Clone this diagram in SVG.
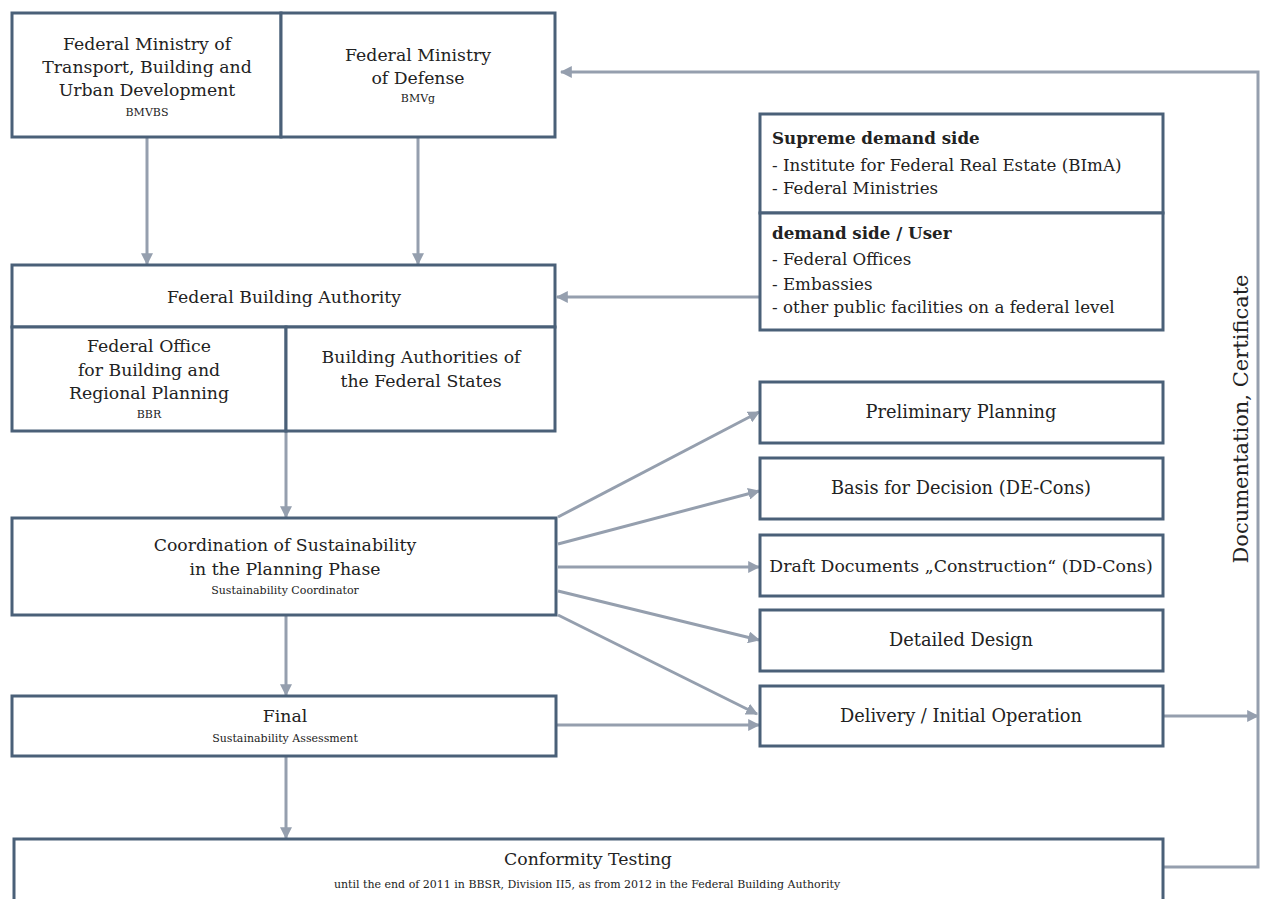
<svg xmlns="http://www.w3.org/2000/svg" width="1262" height="899" viewBox="0 0 1262 899">
<style>
.box{fill:#fff;stroke:#4a6078;stroke-width:3}
.t{font-family:"DejaVu Serif","Liberation Serif",serif;fill:#222;text-anchor:middle;font-size:17.3px}
.r{font-size:17.8px}
.s{font-family:"DejaVu Serif","Liberation Serif",serif;fill:#222;text-anchor:middle;font-size:11px}
.l{font-family:"DejaVu Serif","Liberation Serif",serif;fill:#222;font-size:16.7px}
.b{font-weight:bold}
.c{fill:none;stroke:#959fae;stroke-width:3}
</style>
<defs>
<marker id="ah" viewBox="0 0 10 10" refX="9" refY="5" markerWidth="4" markerHeight="4" orient="auto" markerUnits="strokeWidth">
<path d="M0,0 L10,5 L0,10 z" fill="#959fae"/>
</marker>
</defs>
<rect width="1262" height="899" fill="#fff"/>
<g id="connectors">
<line class="c" x1="147" y1="138" x2="147" y2="264" marker-end="url(#ah)"/>
<line class="c" x1="418" y1="138" x2="418" y2="264" marker-end="url(#ah)"/>
<line class="c" x1="759" y1="297" x2="557" y2="297" marker-end="url(#ah)"/>
<line class="c" x1="286" y1="432" x2="286" y2="517" marker-end="url(#ah)"/>
<line class="c" x1="286" y1="616" x2="286" y2="695" marker-end="url(#ah)"/>
<line class="c" x1="286" y1="757" x2="286" y2="838" marker-end="url(#ah)"/>
<line class="c" x1="558" y1="517" x2="759" y2="412" marker-end="url(#ah)"/>
<line class="c" x1="558" y1="544" x2="759" y2="491" marker-end="url(#ah)"/>
<line class="c" x1="558" y1="567" x2="759" y2="567" marker-end="url(#ah)"/>
<line class="c" x1="558" y1="591" x2="759" y2="640" marker-end="url(#ah)"/>
<line class="c" x1="558" y1="615" x2="757" y2="714" marker-end="url(#ah)"/>
<line class="c" x1="557" y1="725" x2="759" y2="725" marker-end="url(#ah)"/>
<line class="c" x1="1164" y1="716" x2="1258" y2="716" marker-end="url(#ah)"/>
<polyline class="c" points="1164,867 1258,867 1258,72 561,72" marker-end="url(#ah)"/>
</g>
<g id="bmvbs">
<rect class="box" x="12" y="13" width="269" height="124"/>
<text class="t" x="147" y="50">Federal Ministry of</text>
<text class="t" x="147" y="73">Transport, Building and</text>
<text class="t" x="147" y="96">Urban Development</text>
<text class="s" x="147" y="116">BMVBS</text>
</g>
<g id="bmvg">
<rect class="box" x="281" y="13" width="274" height="124"/>
<text class="t" x="418" y="61">Federal Ministry</text>
<text class="t" x="418" y="84">of Defense</text>
<text class="s" x="418" y="102">BMVg</text>
</g>
<g id="fba">
<rect class="box" x="12" y="265" width="543" height="62"/>
<text class="t" x="284" y="303">Federal Building Authority</text>
</g>
<g id="bbr">
<rect class="box" x="12" y="327" width="274" height="104"/>
<text class="t" x="149" y="352">Federal Office</text>
<text class="t" x="149" y="376">for Building and</text>
<text class="t" x="149" y="399">Regional Planning</text>
<text class="s" x="149" y="418">BBR</text>
</g>
<g id="states">
<rect class="box" x="286" y="327" width="269" height="104"/>
<text class="t" x="421" y="363">Building Authorities of</text>
<text class="t" x="421" y="387">the Federal States</text>
</g>
<g id="supreme">
<rect class="box" x="760" y="114" width="403" height="99"/>
<text class="l b" x="772" y="144">Supreme demand side</text>
<text class="l" x="772" y="171">- Institute for Federal Real Estate (BImA)</text>
<text class="l" x="772" y="194">- Federal Ministries</text>
</g>
<g id="user">
<rect class="box" x="760" y="213" width="403" height="117"/>
<text class="l b" x="772" y="239">demand side / User</text>
<text class="l" x="772" y="265">- Federal Offices</text>
<text class="l" x="772" y="290">- Embassies</text>
<text class="l" x="772" y="313">- other public facilities on a federal level</text>
</g>
<g id="coordination">
<rect class="box" x="12" y="518" width="544" height="97"/>
<text class="t" x="285" y="551">Coordination of Sustainability</text>
<text class="t" x="285" y="575">in the Planning Phase</text>
<text class="s" x="285" y="594">Sustainability Coordinator</text>
</g>
<g id="final">
<rect class="box" x="12" y="696" width="544" height="60"/>
<text class="t" x="285" y="722">Final</text>
<text class="s" x="285" y="742">Sustainability Assessment</text>
</g>
<g id="conformity">
<rect class="box" x="14" y="839" width="1149" height="70"/>
<text class="t" x="588" y="865">Conformity Testing</text>
<text class="s" x="587" y="888">until the end of 2011 in BBSR, Division II5, as from 2012 in the Federal Building Authority</text>
</g>
<g id="preliminary">
<rect class="box" x="760" y="382" width="403" height="61"/>
<text class="t r" x="961" y="418">Preliminary Planning</text>
</g>
<g id="basis">
<rect class="box" x="760" y="458" width="403" height="61"/>
<text class="t r" x="961" y="494">Basis for Decision (DE-Cons)</text>
</g>
<g id="draft">
<rect class="box" x="760" y="535" width="403" height="61"/>
<text class="t" x="961" y="572">Draft Documents „Construction“ (DD-Cons)</text>
</g>
<g id="detailed">
<rect class="box" x="760" y="610" width="403" height="61"/>
<text class="t r" x="961" y="646">Detailed Design</text>
</g>
<g id="delivery">
<rect class="box" x="760" y="686" width="403" height="60"/>
<text class="t r" x="961" y="722">Delivery / Initial Operation</text>
</g>
<text class="t" x="1248" y="419" transform="rotate(-90 1248 419)" style="font-size:21px">Documentation, Certificate</text>
</svg>
